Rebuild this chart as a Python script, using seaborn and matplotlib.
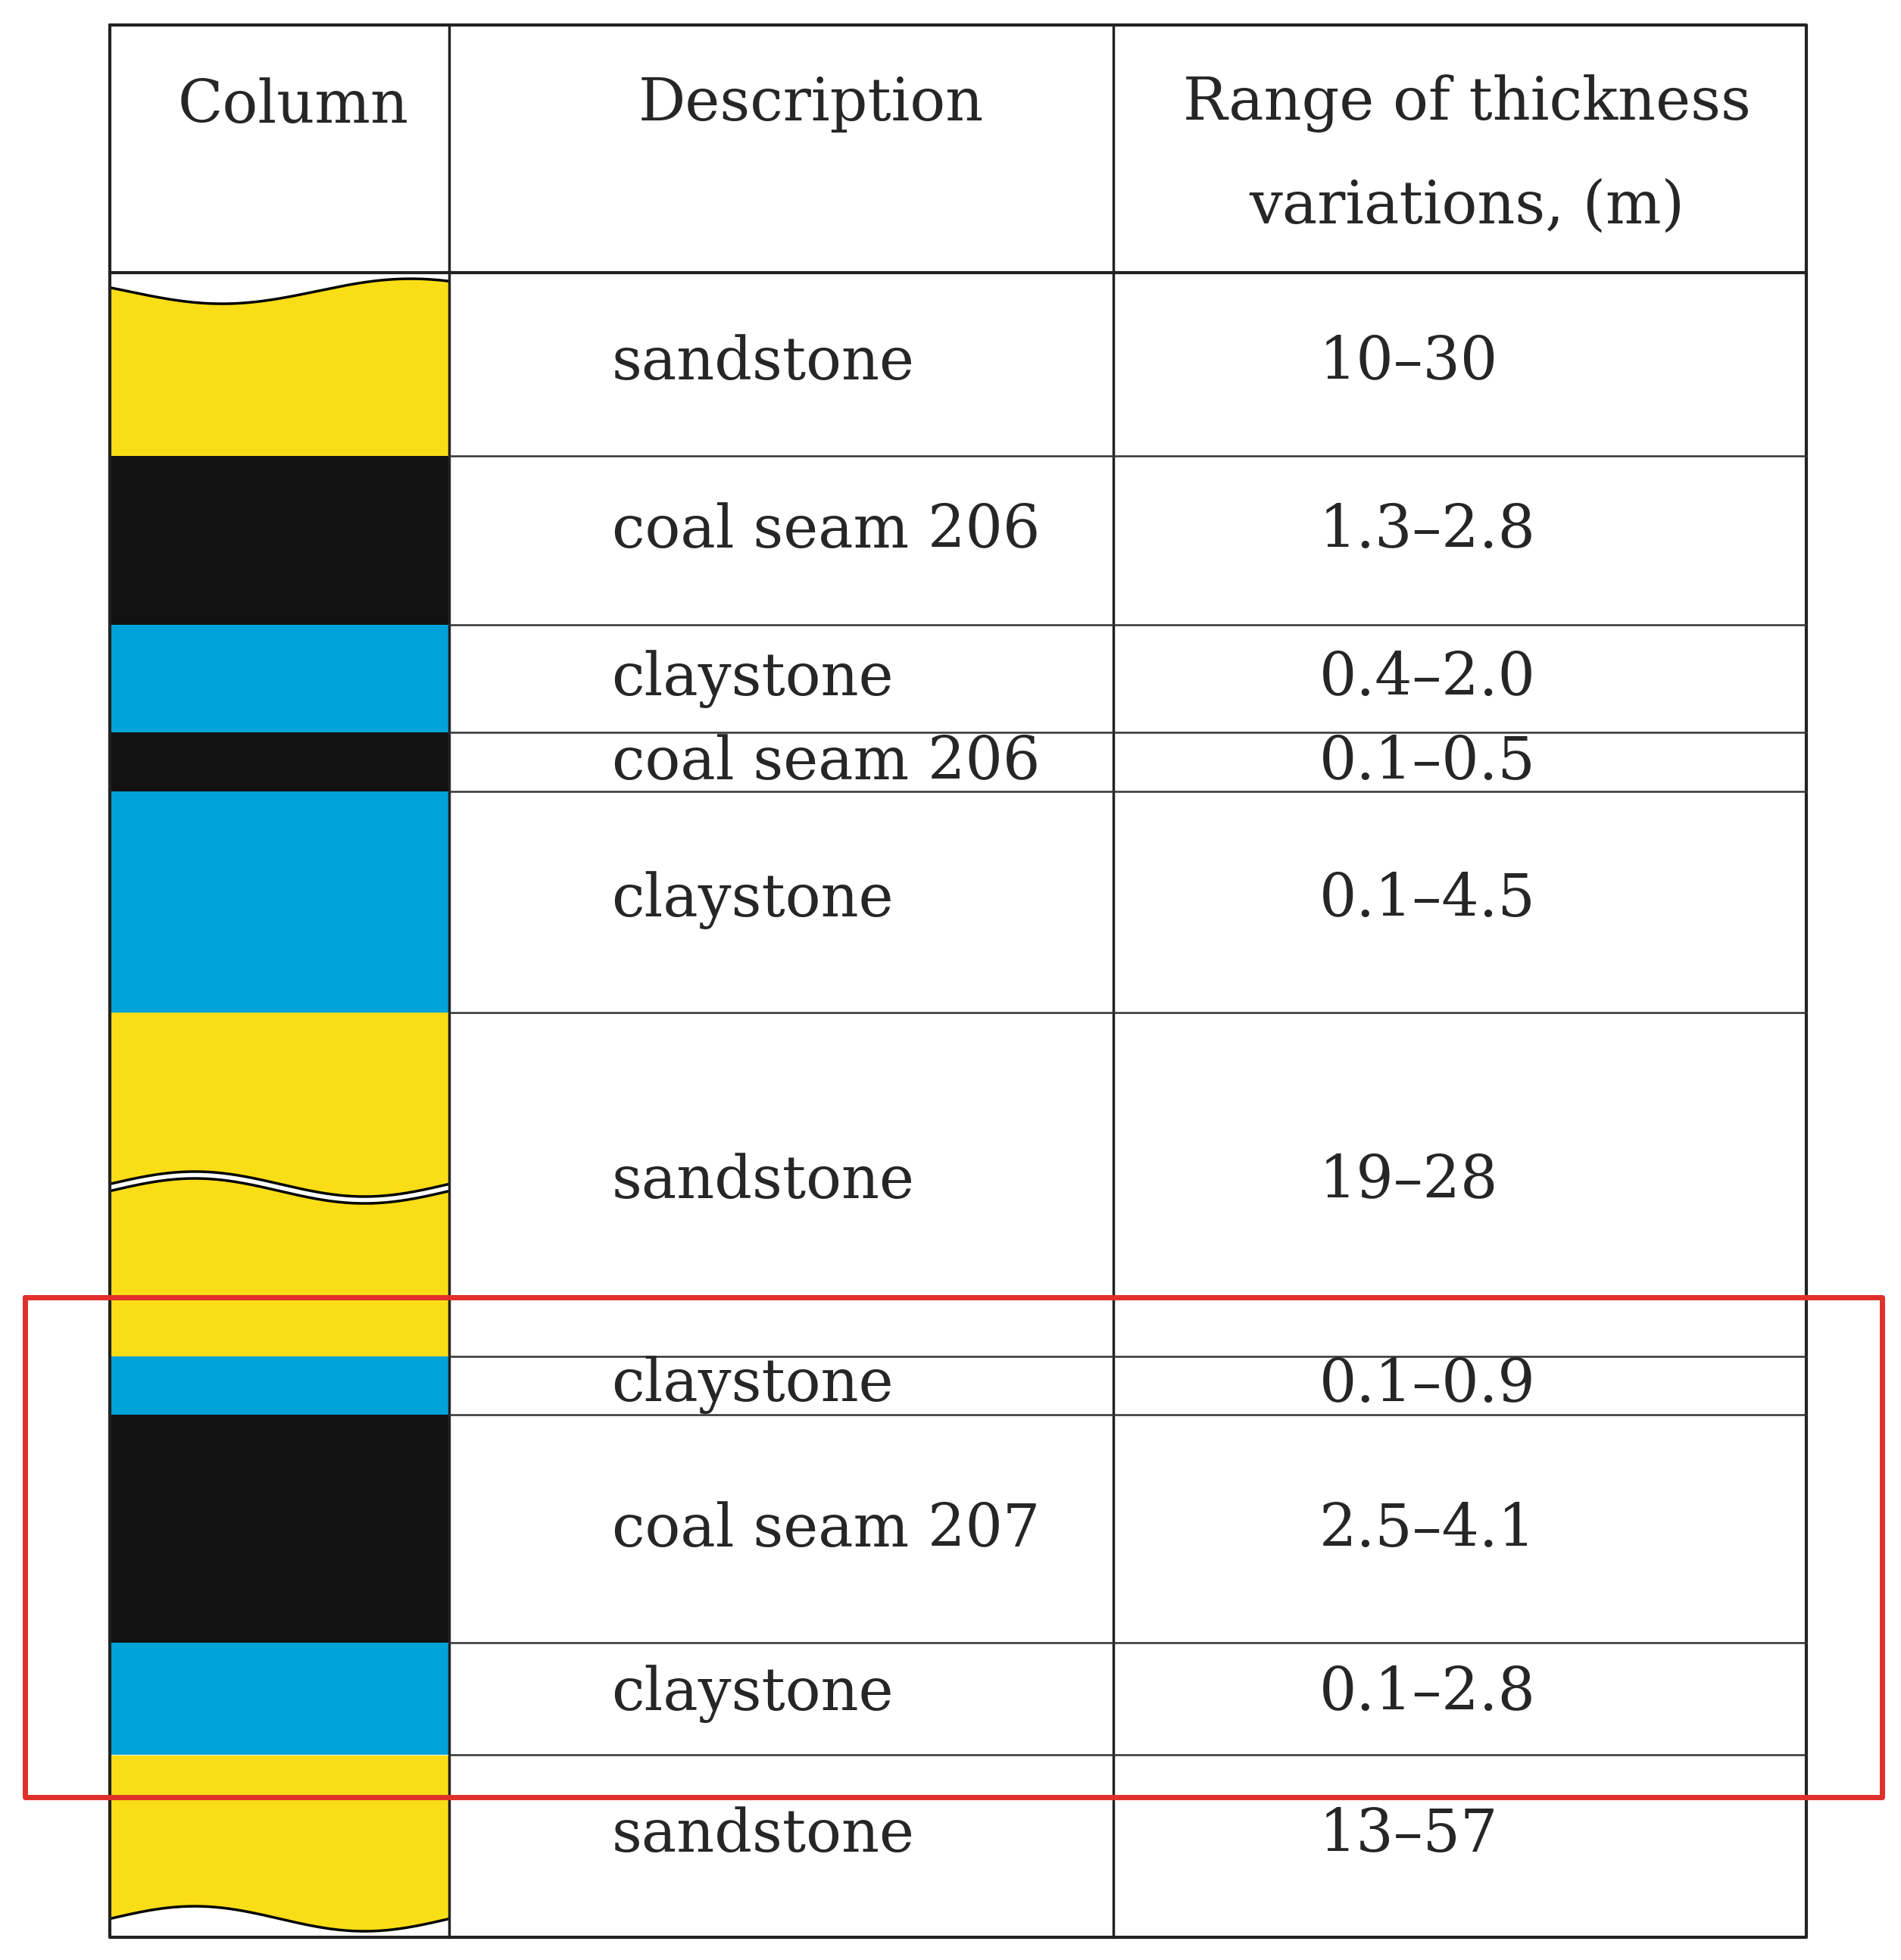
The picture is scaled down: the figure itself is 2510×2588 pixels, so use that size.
import numpy as np
import matplotlib
matplotlib.use("Agg")
import matplotlib.pyplot as plt
import seaborn as sns

sns.set_style("white")
plt.rcParams['font.family'] = ['DejaVu Serif', 'Liberation Serif']

descriptions = ["sandstone", "coal seam 206", "claystone", "coal seam 206", "claystone",
                "sandstone", "claystone", "coal seam 207", "claystone", "sandstone"]
ranges = ["10–30", "1.3–2.8", "0.4–2.0", "0.1–0.5", "0.1–4.5",
          "19–28", "0.1–0.9", "2.5–4.1", "0.1–2.8", "13–57"]
lith = ["sand", "coal", "clay", "coal", "clay", "sand", "clay", "coal", "clay", "sand"]
col_bounds = [220, 365, 500, 586, 633, 810, 1085, 1132, 1314, 1404, 1550]
row_bounds = [218, 365, 500, 586, 633, 810, 1085, 1132, 1314, 1404, 1550]
text_y = [290, 425, 543, 610, 720, 945, 1108, 1224, 1355, 1468]

colors = {"sand": "#F9DD16", "coal": "#121212", "clay": "#00A3D9"}

W, H = 1523, 1568
fig = plt.figure(figsize=(25.10, 25.88), dpi=100)
ax = fig.add_axes([0, 0, 1, 1])
ax.set_xlim(0, W)
ax.set_ylim(H, 0)
ax.axis("off")

x0, x1, x2, x3 = 88, 360, 892, 1447
xs = np.linspace(x0, x1, 200)
t = (xs - x0) / (x1 - x0)
top_wave = 233 + 10 * np.sin(t * 2 * np.pi * 0.9 - 0.3)
bot_wave = 1535 + 10 * np.sin(t * 2 * np.pi + np.pi)

for i, l in enumerate(lith):
    top, bot = col_bounds[i], col_bounds[i + 1]
    if i == 0:
        ax.fill_between(xs, top_wave, bot, color=colors[l], lw=0)
        ax.plot(xs, top_wave, color="black", lw=2.5)
    elif i == len(lith) - 1:
        ax.fill_between(xs, top, bot_wave, color=colors[l], lw=0)
        ax.plot(xs, bot_wave, color="black", lw=2.5)
    else:
        ax.fill_between([x0, x1], top, bot, color=colors[l], lw=0)
mid = 950 - 10 * np.sin(t * 2 * np.pi)
ax.plot(xs, mid, color="black", lw=9, solid_capstyle="butt")
ax.plot(xs, mid, color="white", lw=4, solid_capstyle="butt")

lw = 2.5
ax.plot([x0, x3, x3, x0, x0], [20, 20, 1550, 1550, 20], color="#222", lw=3)
ax.plot([x0, x3], [218, 218], color="#222", lw=3)
for x in (x1, x2):
    ax.plot([x, x], [20, 1550], color="#222", lw=lw)
for y in row_bounds[1:-1]:
    ax.plot([x1, x3], [y, y], color="#333", lw=1.8)

fs = 56
ax.text(235, 85, "Column", fontsize=fs, ha="center", va="center")
ax.text(650, 83, "Description", fontsize=fs, ha="center", va="center")
ax.text(1175, 83, "Range of thickness", fontsize=fs, ha="center", va="center")
ax.text(1175, 166, "variations, (m)", fontsize=fs, ha="center", va="center")

for d, r, y in zip(descriptions, ranges, text_y):
    ax.text(490, y, d, fontsize=fs, ha="left", va="center")
    ax.text(1057, y, r, fontsize=fs, ha="left", va="center")

ax.plot([20, 1508, 1508, 20, 20], [1038, 1038, 1438, 1438, 1038], color="#E0302A", lw=5)

fig.savefig("out.png", dpi=100)
